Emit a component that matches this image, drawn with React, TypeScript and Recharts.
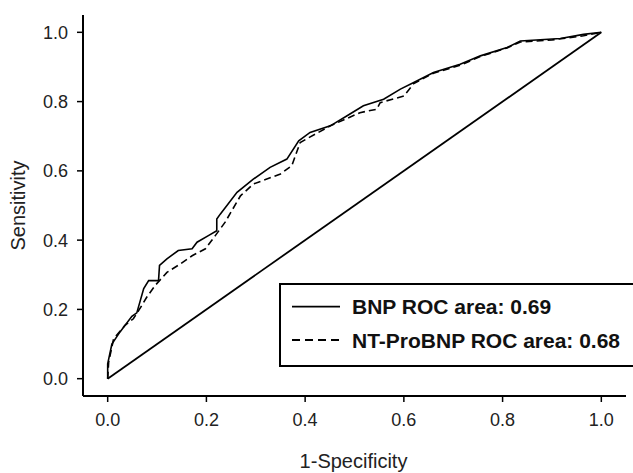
import React from 'react';
import { LineChart, Line, XAxis, YAxis, Legend, Label } from 'recharts';

// ROC points (1-specificity, sensitivity)
const bnpFpr = [0, 0, 0.0085, 0.025, 0.049, 0.059, 0.073, 0.083, 0.103, 0.105, 0.12, 0.143, 0.171, 0.181, 0.204, 0.221, 0.221, 0.228, 0.262, 0.295, 0.329, 0.363, 0.387, 0.41, 0.451, 0.485, 0.518, 0.559, 0.593, 0.62, 0.66, 0.714, 0.755, 0.809, 0.836, 0.917, 0.964, 1];
const bnpTpr = [0, 0.043, 0.1, 0.135, 0.18, 0.19, 0.26, 0.283, 0.283, 0.327, 0.346, 0.37, 0.375, 0.394, 0.413, 0.427, 0.461, 0.475, 0.538, 0.576, 0.61, 0.634, 0.687, 0.711, 0.73, 0.759, 0.788, 0.807, 0.836, 0.855, 0.884, 0.908, 0.932, 0.956, 0.975, 0.982, 0.994, 1];

const ntFpr = [0, 0.002, 0.012, 0.035, 0.052, 0.069, 0.079, 0.096, 0.12, 0.147, 0.171, 0.198, 0.218, 0.238, 0.269, 0.295, 0.35, 0.373, 0.39, 0.451, 0.511, 0.545, 0.552, 0.6, 0.62, 0.66, 0.714, 0.755, 0.809, 0.836, 0.9, 0.964, 1];
const ntTpr = [0, 0.048, 0.115, 0.154, 0.173, 0.211, 0.235, 0.269, 0.307, 0.331, 0.355, 0.375, 0.413, 0.452, 0.528, 0.562, 0.591, 0.615, 0.682, 0.73, 0.768, 0.778, 0.797, 0.816, 0.852, 0.882, 0.905, 0.93, 0.955, 0.972, 0.978, 0.99, 1];

const refFpr = [0, 1];
const refTpr = [0, 1];

const ticks = [0, 0.2, 0.4, 0.6, 0.8, 1.0];
const legendNames = ['BNP ROC area: 0.69', 'NT-ProBNP ROC area: 0.68'];

const toPoints = (xs: number[], ys: number[]) => xs.map((x, i) => ({ x, y: ys[i] }));

const bnpData = toPoints(bnpFpr, bnpTpr);
const ntData = toPoints(ntFpr, ntTpr);
const refData = toPoints(refFpr, refTpr);

const FONT = 'Arial, "Liberation Sans", sans-serif';
const tickStyle = { fill: '#222', fontSize: 18, fontFamily: FONT };

function LegendBox() {
  return (
    <div style={{ width: 362, height: 84, border: '2px solid #000', boxSizing: 'border-box', background: '#fff' }}>
      <svg width={360} height={80} style={{ display: 'block' }}>
        {legendNames.map((name, i) => (
          <g key={name}>
            <line
              x1={11}
              x2={59}
              y1={21.7 + i * 33.3}
              y2={21.7 + i * 33.3}
              stroke="#000"
              strokeWidth={1.8}
              strokeDasharray={i === 1 ? '8 5' : undefined}
            />
            <text x={71} y={29.2 + i * 33.3} fontFamily={FONT} fontWeight="bold" fontSize={21} fill="#111">
              {name}
            </text>
          </g>
        ))}
      </svg>
    </div>
  );
}

export default function App() {
  return (
    <div style={{ position: 'absolute', left: 0, top: 0, width: 633, height: 473, overflow: 'hidden', background: '#fff' }}>
      <LineChart width={633} height={473} margin={{ top: 15, right: 7, left: 0, bottom: 0 }}>
        <XAxis
          type="number"
          dataKey="x"
          domain={[-0.05, 1.05]}
          allowDataOverflow
          ticks={ticks}
          tickFormatter={(v: number) => v.toFixed(1)}
          tick={tickStyle}
          tickSize={6}
          tickMargin={11}
          height={77}
          axisLine={{ stroke: '#000', strokeWidth: 2 }}
          tickLine={{ stroke: '#000', strokeWidth: 1.5 }}
        >
          <Label
            content={({ viewBox }: any) => (
              <text x={viewBox.x + viewBox.width / 2 - 1} y={viewBox.y + 72} textAnchor="middle" fontFamily={FONT} fontSize={20} fill="#222">
                1-Specificity
              </text>
            )}
          />
        </XAxis>
        <YAxis
          type="number"
          dataKey="y"
          domain={[-0.05, 1.05]}
          allowDataOverflow
          ticks={ticks}
          tickFormatter={(v: number) => v.toFixed(1)}
          tick={tickStyle}
          tickSize={6}
          tickMargin={9}
          width={83}
          axisLine={{ stroke: '#000', strokeWidth: 2 }}
          tickLine={{ stroke: '#000', strokeWidth: 1.5 }}
        >
          <Label
            content={({ viewBox }: any) => {
              const cx = 18;
              const cy = viewBox.y + viewBox.height / 2;
              return (
                <text x={cx} y={cy} transform={`rotate(-90, ${cx}, ${cy})`} textAnchor="middle" dominantBaseline="central" fontFamily={FONT} fontSize={20} fill="#222">
                  Sensitivity
                </text>
              );
            }}
          />
        </YAxis>
        <Line data={refData} dataKey="y" type="linear" stroke="#000" strokeWidth={1.8} dot={false} isAnimationActive={false} legendType="none" />
        <Line data={ntData} dataKey="y" type="linear" stroke="#000" strokeWidth={1.6} strokeDasharray="7 4" dot={false} isAnimationActive={false} name={legendNames[1]} />
        <Line data={bnpData} dataKey="y" type="linear" stroke="#000" strokeWidth={1.6} dot={false} isAnimationActive={false} name={legendNames[0]} />
        <Legend
          layout="horizontal"
          verticalAlign="middle"
          align="center"
          content={() => <LegendBox />}
          wrapperStyle={{ position: 'absolute', left: 279, top: 283, width: 362, height: 84, bottom: 'auto', right: 'auto', margin: 0 }}
        />
      </LineChart>
    </div>
  );
}
